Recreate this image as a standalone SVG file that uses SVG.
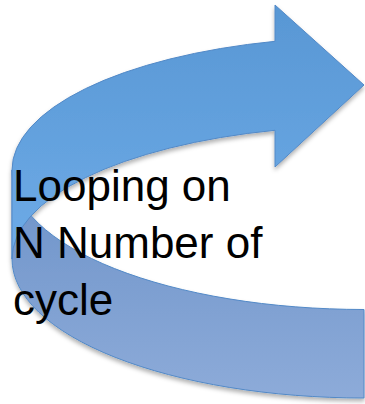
<svg xmlns="http://www.w3.org/2000/svg" width="365" height="404" viewBox="0 0 365 404">
  <style>
    .band { stroke: #5289c7; stroke-width: 1; stroke-linejoin: miter; }
    .label { font-family: "Liberation Sans", Arial, sans-serif; font-size: 44px; fill: #000000; }
  </style>
  <defs>
    <linearGradient id="gFront" x1="0" y1="5" x2="0" y2="260" gradientUnits="userSpaceOnUse">
      <stop offset="0" stop-color="#5897d4"/>
      <stop offset="1" stop-color="#6eabe7"/>
    </linearGradient>
    <linearGradient id="gBack" x1="0" y1="170" x2="0" y2="398" gradientUnits="userSpaceOnUse">
      <stop offset="0" stop-color="#6c92c8"/>
      <stop offset="1" stop-color="#8dabd9"/>
    </linearGradient>
    <filter id="shadow" x="-10%" y="-10%" width="120%" height="120%">
      <feDropShadow dx="0" dy="3" stdDeviation="2" flood-color="#000000" flood-opacity="0.3"/>
    </filter>
  </defs>
  <rect width="365" height="404" fill="#ffffff"/>
  <g id="arrow" filter="url(#shadow)">
    <path id="back-band" class="band" fill="url(#gBack)" d="M364,309.5 A352,139 0 0 1 12,170 L12,259 A352,139 0 0 0 364,398 Z"/>
    <path id="front-band" class="band" fill="url(#gFront)" d="M12,170 A352,133 0 0 1 275,41.3 L275,5 L364,85 L275,167 L275,130.3 A352,133 0 0 0 12,259 Z"/>
  </g>
  <g id="label">
    <text class="label" x="13" y="201">Looping on</text>
    <text class="label" x="13" y="258">N Number of</text>
    <text class="label" x="13" y="315">cycle</text>
  </g>
</svg>
